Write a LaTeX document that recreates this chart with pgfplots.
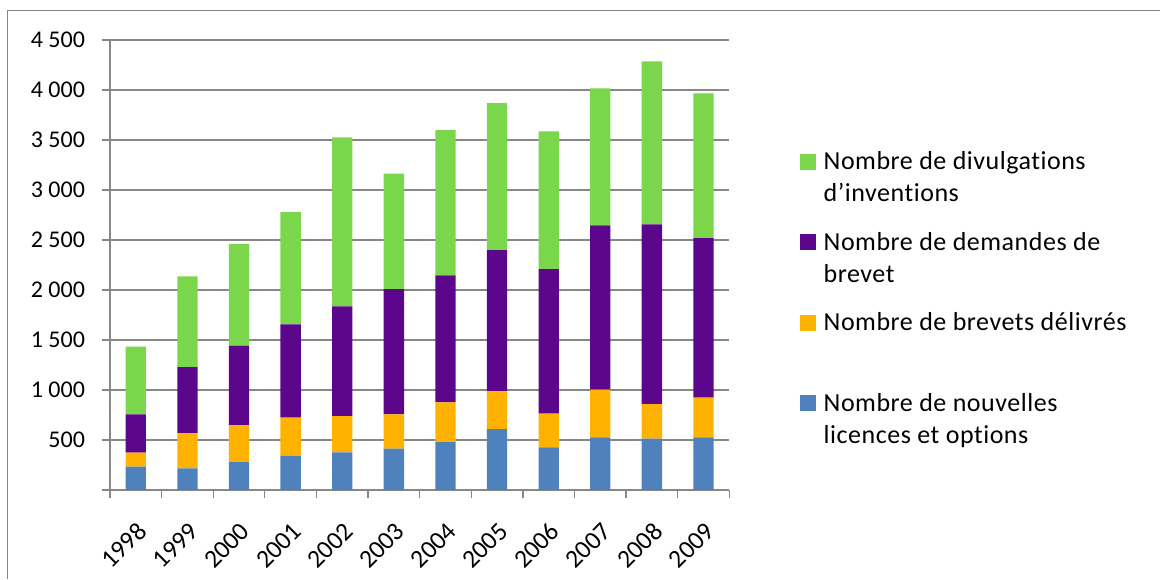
\documentclass[border=0pt]{standalone}
\usepackage{fontspec}
\setmainfont{Carlito}[Ligatures=NoCommon]
\usepackage{pgfplots}
\pgfplotsset{compat=1.18}
\usepackage{pgfplotstable}

\definecolor{cGreen}{HTML}{7AD74C}
\definecolor{cPurple}{HTML}{5C068C}
\definecolor{cOrange}{HTML}{FFB300}
\definecolor{cBlue}{HTML}{4F81BD}
\definecolor{cGrid}{HTML}{878787}

% year index, licences, brevets delivres, demandes, divulgations
\pgfplotstableread{
x  lic  deliv  dem   div
0  233  140    384   676
1  217  350    663   907
2  280  367    796   1017
3  343  380    934   1123
4  377  363    1097  1690
5  413  344    1253  1153
6  480  397    1270  1453
7  610  377    1413  1470
8  427  336    1447  1377
9  527  476    1644  1370
10 513  347    1797  1630
11 527  396    1597  1447
}\data

\begin{document}
\begin{tikzpicture}
\useasboundingbox (-55pt,-44.5pt) rectangle (525pt,245pt);
\begin{axis}[
    at={(0,0)}, anchor=south west,
    scale only axis,
    width=309.65pt, height=225pt,
    ybar stacked, bar width=10.15pt,
    xmin=-0.5, xmax=11.5,
    ymin=0, ymax=4500,
    axis lines=left,
    axis line style={-, draw=cGrid, line width=0.65pt},
    xtick={0,...,11},
    xticklabels={1998,1999,2000,2001,2002,2003,2004,2005,2006,2007,2008,2009},
    x tick style={draw=none},
    minor xtick={-0.5,0.5,...,11.5},
    minor x tick style={draw=cGrid, line width=0.65pt},
    minor tick length=4pt,
    ytick={0,500,...,4500},
    yticklabels={,500,1 000,1 500,2 000,2 500,3 000,3 500,4 000,4 500},
    y tick style={draw=cGrid, line width=0.65pt},
    major tick length=4pt,
    tick align=outside,
    ymajorgrids,
    grid style={draw=cGrid, line width=0.65pt},
    ticklabel style={font=\fontsize{12}{14}\selectfont, text=black},
    xticklabel style={font=\fontsize{12.8}{14}\selectfont, rotate=45, anchor=east, xshift=-4.5pt, yshift=-12.5pt},
    yticklabel style={xshift=-5pt},
    /pgf/number format/assume math mode=true,
    every axis plot/.append style={draw=none},
]
\addplot[fill=cBlue] table[x=x, y=lic] {\data};
\addplot[fill=cOrange] table[x=x, y=deliv] {\data};
\addplot[fill=cPurple] table[x=x, y=dem] {\data};
\addplot[fill=cGreen] table[x=x, y=div] {\data};
\end{axis}

% frame
\draw[cGrid, line width=0.75pt] (-51.15pt,-44.5pt) -- (-51.15pt,239.65pt) -- (525pt,239.65pt);

% legend
\begin{scope}[every node/.style={anchor=base west, inner sep=0pt,
    font=\fontsize{13}{16}\selectfont\addfontfeatures{LetterSpace=2}}]
\fill[cGreen]  (345pt,160.25pt) rectangle (353pt,168.25pt);
\node at (356.65pt,160.25pt) {Nombre de divulgations};
\node at (356.65pt,144.1pt) {d’inventions};
\fill[cPurple] (345pt,120pt) rectangle (353pt,128pt);
\node at (356.65pt,120pt) {Nombre de demandes de};
\node at (356.65pt,103.85pt) {brevet};
\fill[cOrange] (345pt,79.75pt) rectangle (353pt,87.75pt);
\node at (356.65pt,79.75pt) {Nombre de brevets délivrés};
\fill[cBlue]   (345pt,39.5pt) rectangle (353pt,47.5pt);
\node at (356.65pt,39.5pt) {Nombre de nouvelles};
\node at (356.65pt,23.35pt) {licences et options};
\end{scope}
\end{tikzpicture}
\end{document}
